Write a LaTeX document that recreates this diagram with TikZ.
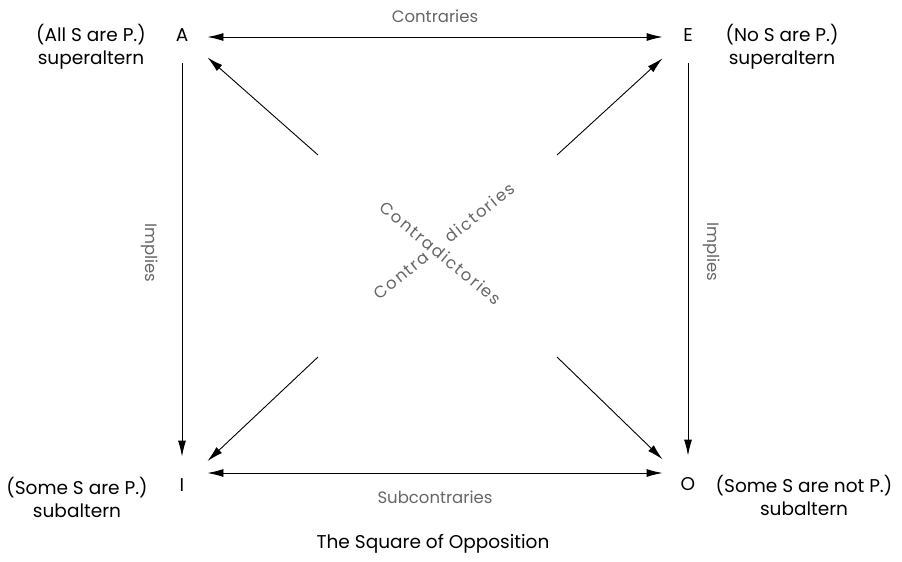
\documentclass[tikz,border=0pt]{standalone}
\usepackage{fontspec}
\setmainfont{Poppins}
\usetikzlibrary{arrows.meta}
\begin{document}
\begin{tikzpicture}[x=1pt,y=-1pt,font=\fontsize{18.5}{23}\selectfont,
  >={Latex[length=16pt,width=8pt]},line width=0.9pt,
  term/.style={minimum width=50pt,minimum height=56pt,inner sep=0pt},
  note/.style={text=black!60,font=\fontsize{16.5}{19}\selectfont}]
  \useasboundingbox (0,0) rectangle (902,562);
  \node[term] (A) at (182,35) {A};
  \node[term] (E) at (688,35) {E};
  \node[term] (I) at (182,485) {I};
  \node[term] (O) at (688,484) {O};
  \node[align=center] (Aq) at (91,47) {(All S are P.)\\superaltern};
  \node[align=center] (Eq) at (782,47) {(No S are P.)\\superaltern};
  \node[align=center] (Iq) at (77,497) {(Some S are P.)\\subaltern};
  \node[align=center] (Oq) at (804,495) {(Some S are not P.)\\subaltern};
  \coordinate (c1) at (318,155);
  \coordinate (c2) at (557,155);
  \coordinate (c3) at (318,357);
  \coordinate (c4) at (557,357);
  \draw[<->] ([yshift=-2pt]A.east) -- ([yshift=-2pt]E.west);
  \draw[<->] ([yshift=12pt]I.east) -- ([yshift=11pt]O.west);
  \draw[->] (A) -- (I);
  \draw[->] (E) -- (O);
  \foreach \c/\t in {c1/A,c2/E,c3/I,c4/O}
    \draw[->] (\c) -- (\t);
  \node[note] (top) at (435,16) {Contraries};
  \node[note] (bot) at (435,497) {Subcontraries};
  \node[note,rotate=-90] (lft) at (150,253) {Implies};
  \node[note,rotate=-90] (rgt) at (712,252) {Implies};
  \node[note,rotate=-39.7] (cd1) at (441,253)
    {\addfontfeatures{LetterSpace=10}Contradictories};
  \node[note,rotate=38.6] (cd2) at (444,241)
    {\addfontfeatures{LetterSpace=10}Contra\hspace{26pt}dictories};
  \node (title) at (433,544) {The Square of Opposition};
\end{tikzpicture}
\end{document}
